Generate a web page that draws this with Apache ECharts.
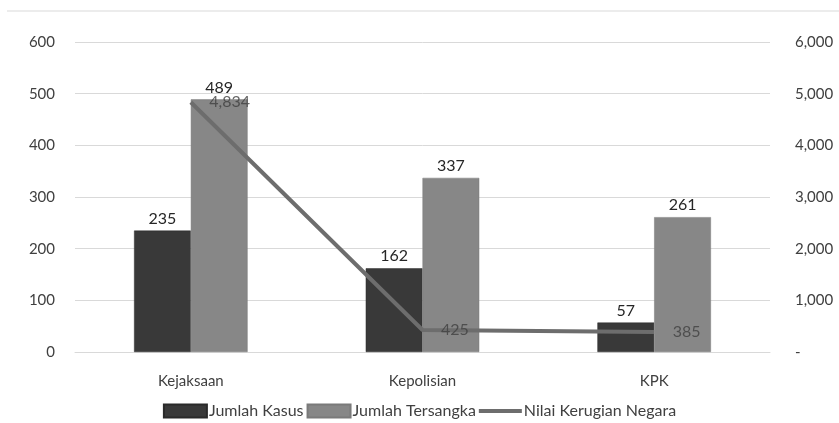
<!DOCTYPE html>
<html>
<head>
<meta charset="utf-8">
<script src="https://cdn.jsdelivr.net/npm/echarts@6/dist/echarts.min.js"></script>
<style>html,body{margin:0;padding:0;background:#fff}#c{width:839px;height:423px}</style>
</head>
<body>
<div id="c"></div>
<script>
const categories = ['Kejaksaan', 'Kepolisian', 'KPK'];
const jumlahKasus = [235, 162, 57];
const jumlahTersangka = [489, 337, 261];
const nilaiKerugian = [4834, 425, 385];
const leftTicks = { min: 0, max: 600, interval: 100 };
const rightTicks = { min: 0, max: 6000, interval: 1000 };

const fmt = v => Number(v).toLocaleString('en-US');
const font = 'Lato, "Noto Sans", sans-serif';

const chart = echarts.init(document.getElementById('c'));
chart.setOption({
  animation: false,
  backgroundColor: '#fff',
  textStyle: { fontFamily: font },
  graphic: [{
    type: 'line', shape: { x1: 7, y1: 11, x2: 839, y2: 11 },
    style: { stroke: '#d9d9d9', lineWidth: 1 }
  }],
  grid: { left: 75, right: 69, top: 42, bottom: 71 },
  legend: {
    top: 403, left: 'center', padding: 0,
    itemWidth: 43, itemHeight: 13, itemGap: 3,
    textStyle: { fontSize: 16, color: '#404040', fontFamily: font, padding: [0, 0, 0, -3] },
    data: [
      { name: 'Jumlah Kasus', icon: 'rect' },
      { name: 'Jumlah Tersangka', icon: 'rect' },
      { name: 'Nilai Kerugian Negara',
        icon: 'path://M0,0 L0,0 Z M0,4.5 L43,4.5 L43,8.5 L0,8.5 Z M43,13 L43,13 Z' }
    ]
  },
  xAxis: {
    type: 'category', data: categories,
    axisLine: { lineStyle: { color: '#d9d9d9', width: 1 } },
    axisTick: { show: false },
    axisLabel: { margin: 22, fontSize: 15, color: '#404040', fontFamily: font }
  },
  yAxis: [{
    type: 'value', min: leftTicks.min, max: leftTicks.max, interval: leftTicks.interval,
    axisLine: { show: false }, axisTick: { show: false },
    splitLine: { lineStyle: { color: '#d9d9d9', width: 1 } },
    axisLabel: { margin: 20, fontSize: 15, color: '#404040', fontFamily: font }
  }, {
    type: 'value', min: rightTicks.min, max: rightTicks.max, interval: rightTicks.interval,
    position: 'right',
    axisLine: { show: false }, axisTick: { show: false },
    splitLine: { show: false },
    axisLabel: { margin: 25, fontSize: 15, color: '#404040', fontFamily: font,
      formatter: v => v === 0 ? '-' : fmt(v) }
  }],
  series: [{
    name: 'Jumlah Kasus', type: 'bar', data: jumlahKasus,
    barGap: '0%', barCategoryGap: '51%',
    itemStyle: { color: '#393939', borderColor: '#2a2a2a', borderWidth: 0.5 },
    label: { show: true, position: 'top', fontSize: 16, color: '#262626', distance: 4, fontFamily: font }
  }, {
    name: 'Jumlah Tersangka', type: 'bar', data: jumlahTersangka,
    barGap: '0%', barCategoryGap: '51%',
    itemStyle: { color: '#878787', borderColor: '#7a7a7a', borderWidth: 0.5 },
    label: { show: true, position: 'top', fontSize: 16, color: '#262626', distance: 4, fontFamily: font }
  }, {
    name: 'Nilai Kerugian Negara', type: 'line', yAxisIndex: 1, data: nilaiKerugian,
    symbol: 'none', z: 5,
    lineStyle: { color: '#6d6d6d', width: 4 },
    itemStyle: { color: '#6d6d6d' }
  }, {
    name: 'Nilai Kerugian Negara (label)', type: 'scatter', yAxisIndex: 1, data: nilaiKerugian,
    symbolSize: 1, z: 6, silent: true,
    itemStyle: { color: 'rgba(0,0,0,0)' },
    label: { show: true, position: 'right', distance: 18, fontSize: 16, color: '#404040',
      fontFamily: font, formatter: p => fmt(p.value) }
  }]
});
</script>
</body>
</html>
